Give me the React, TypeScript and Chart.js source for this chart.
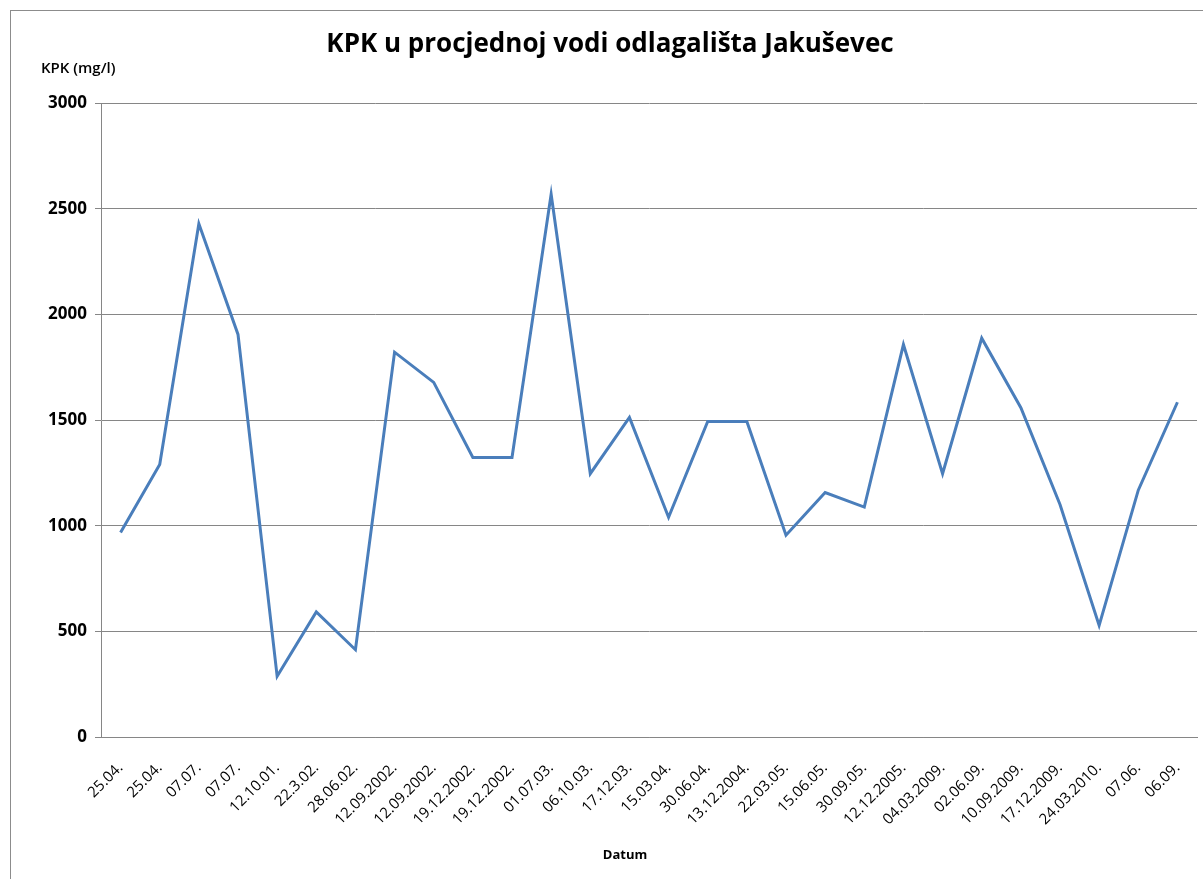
import React, { useEffect, useRef } from "react";
import { Chart, registerables } from "chart.js";

Chart.register(...registerables);

const TITLE = "KPK u procjednoj vodi odlagališta Jakuševec";
const Y_TITLE = "KPK (mg/l)";
const X_TITLE = "Datum";

const categories = [
  "25.04.", "25.04.", "07.07.", "07.07.", "12.10.01.", "22.3.02.", "28.06.02.",
  "12.09.2002.", "12.09.2002.", "19.12.2002.", "19.12.2002.", "01.07.03.", "06.10.03.",
  "17.12.03.", "15.03.04.", "30.06.04.", "13.12.2004.", "22.03.05.", "15.06.05.",
  "30.09.05.", "12.12.2005.", "04.03.2009.", "02.06.09.", "10.09.2009.", "17.12.2009.",
  "24.03.2010.", "07.06.", "06.09.",
];

const kpkValues = [
  968, 1289, 2429, 1905, 287, 592, 413,
  1821, 1678, 1323, 1323, 2568, 1246,
  1512, 1040, 1493, 1493, 955, 1157,
  1088, 1857, 1246, 1887, 1558, 1100,
  528, 1168, 1584,
];

const yTicks = [0, 500, 1000, 1500, 2000, 2500, 3000];

const FONT = '"Open Sans", "DejaVu Sans", sans-serif';

const decorPlugin = {
  id: "decor",
  beforeDraw(chart: any) {
    const ctx = chart.ctx;
    ctx.save();
    ctx.fillStyle = "#ffffff";
    ctx.fillRect(0, 0, chart.width, chart.height);
    ctx.strokeStyle = "#8c8c8c";
    ctx.lineWidth = 1;
    ctx.strokeRect(10.5, 10.5, 1400, 1000);
    ctx.restore();
  },
  afterDraw(chart: any) {
    const ctx = chart.ctx;
    ctx.save();
    ctx.fillStyle = "#000000";
    ctx.textBaseline = "middle";
    ctx.textAlign = "center";
    ctx.font = `bold 26px ${FONT}`;
    ctx.fillText(TITLE, 610, 45);
    ctx.textAlign = "left";
    ctx.font = `600 15px ${FONT}`;
    ctx.fillText(Y_TITLE, 41, 69);
    ctx.textAlign = "center";
    ctx.font = `bold 13px ${FONT}`;
    ctx.fillText(X_TITLE, 625, 855);
    ctx.restore();
  },
};

export default function App() {
  const ref = useRef<HTMLCanvasElement | null>(null);

  useEffect(() => {
    if (!ref.current) return;
    const chart = new Chart(ref.current, {
      type: "line",
      data: {
        labels: categories,
        datasets: [
          {
            label: "KPK",
            data: kpkValues,
            borderColor: "#4a7ebb",
            borderWidth: 3,
            pointRadius: 0,
            pointHoverRadius: 0,
            tension: 0,
            fill: false,
          },
        ],
      },
      options: {
        responsive: false,
        animation: false,
        maintainAspectRatio: false,
        layout: { padding: { left: 0, right: 6, top: 103, bottom: 0 } },
        plugins: {
          legend: { display: false },
          title: { display: false },
          tooltip: { enabled: false },
        },
        scales: {
          x: {
            offset: true,
            afterFit: (scale: any) => {
              scale.height = 142;
              scale.paddingLeft = 0;
              scale.paddingRight = 0;
            },
            grid: { display: false, drawTicks: false },
            border: { display: true, color: "#868686", width: 1 },
            ticks: {
              autoSkip: false,
              minRotation: 45,
              maxRotation: 45,
              padding: 22,
              color: "#000000",
              font: { family: FONT, size: 15, weight: "normal" },
            },
          },
          y: {
            min: 0,
            max: 3000,
            afterFit: (scale: any) => {
              scale.width = 101;
              scale.paddingTop = 0;
              scale.paddingBottom = 0;
            },
            afterBuildTicks: (scale: any) => {
              scale.ticks = yTicks.map((v) => ({ value: v }));
            },
            grid: {
              color: "#868686",
              lineWidth: 1,
              drawTicks: true,
              tickLength: 6,
            },
            border: { display: true, color: "#868686", width: 1 },
            ticks: {
              padding: 8,
              color: "#000000",
              font: { family: FONT, size: 17, weight: "bold" },
              callback: (v: any) => String(v),
            },
          },
        },
      },
      plugins: [decorPlugin],
    });
    return () => chart.destroy();
  }, []);

  return (
    <div style={{ position: "absolute", left: 0, top: 0, width: 1203, height: 879 }}>
      <canvas ref={ref} width={1203} height={879} style={{ width: 1203, height: 879, display: "block" }} />
    </div>
  );
}
